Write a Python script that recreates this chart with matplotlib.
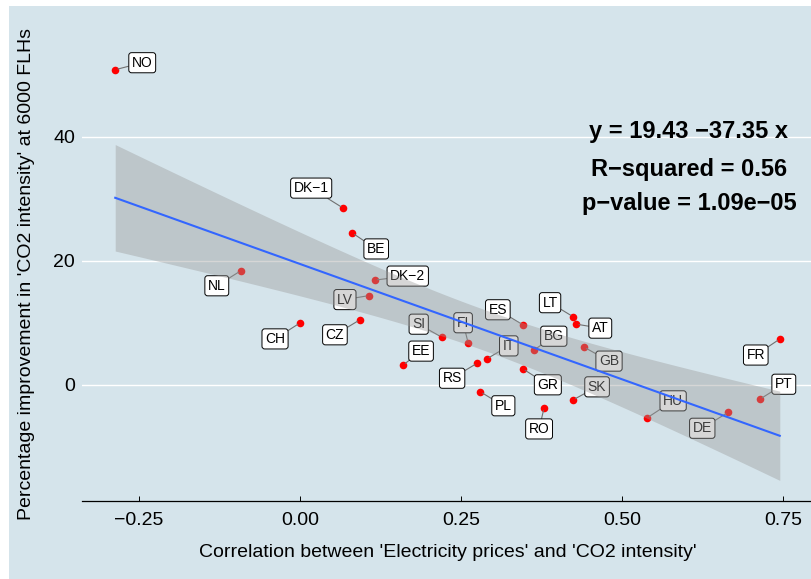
import matplotlib.pyplot as plt
import numpy as np

plt.rcParams['font.family'] = ['Liberation Sans', 'DejaVu Sans']

# data
countries = ['NO', 'DK-1', 'BE', 'DK-2', 'NL', 'LV', 'CH', 'CZ', 'SI', 'FI', 'EE', 'RS', 'IT',
             'ES', 'LT', 'AT', 'BG', 'GB', 'GR', 'PL', 'RO', 'SK', 'HU', 'DE', 'FR', 'PT']
corr = [-0.287, 0.067, 0.081, 0.116, -0.092, 0.107, 0.000, 0.093, 0.220, 0.261, 0.160, 0.275, 0.290,
        0.346, 0.424, 0.429, 0.363, 0.441, 0.346, 0.280, 0.379, 0.424, 0.539, 0.665, 0.745, 0.714]
improvement = [50.8, 28.5, 24.5, 16.9, 18.4, 14.4, 10.0, 10.5, 7.7, 6.8, 3.2, 3.5, 4.2,
               9.7, 11.0, 9.8, 5.6, 6.1, 2.6, -1.1, -3.7, -2.4, -5.3, -4.4, 7.4, -2.3]
# label offsets (pixels, image y downwards) as placed by the repel layout
label_dx = [27, -32, 24, 33, -24, -24, -25, -25, -23, -5, 18, -25, 22,
            -25, -23, 24, 20, 25, 25, 23, -5, 24, 26, -26, -24, 24]
label_dy = [-7, -20, 16, -4, 15, 4, 16, 15, -13, -20, -14, 15, -13,
            -15, -14, 4, -14, 14, 16, 14, 21, -13, -17, 16, 16, -15]
stats_lines = ['y = 19.43 \u221237.35 x', 'R\u2212squared = 0.56', 'p\u2212value = 1.09e\u221205']

bg = '#d5e4eb'
x = np.array(corr)
y = np.array(improvement)

fig = plt.figure(figsize=(8.11, 5.79), dpi=100, facecolor='white')
# plot background (thin white strip left and top, as in the reference)
fig.patches.append(plt.Rectangle((9 / 811, 0), 1, 573 / 579, transform=fig.transFigure,
                                 fc=bg, ec='none', zorder=-10))
ax = fig.add_axes([82 / 811, 78 / 579, 731 / 811, 453 / 579])
ax.set_facecolor(bg)

ax.scatter(x, y, s=30, color='#ff0000', zorder=2, linewidths=0)

for i, name in enumerate(countries):
    ax.annotate(name.replace('-', '\u2212'), xy=(x[i], y[i]), xytext=(label_dx[i], -label_dy[i]),
                textcoords='offset pixels', ha='center', va='center', fontsize=10, zorder=3,
                bbox=dict(boxstyle='round,pad=0.22,rounding_size=0.2', fc='white', ec='black', lw=0.7),
                arrowprops=dict(arrowstyle='-', color='#707070', lw=0.8, shrinkA=0, shrinkB=2))

# linear fit with 95% confidence band
n = len(x)
slope, intercept = np.polyfit(x, y, 1)
resid = y - (intercept + slope * x)
s = np.sqrt(np.sum(resid ** 2) / (n - 2))
t_crit = 2.064  # t(0.975, df=24)
xg = np.linspace(x.min(), x.max(), 80)
yg = intercept + slope * xg
se = s * np.sqrt(1 / n + (xg - x.mean()) ** 2 / np.sum((x - x.mean()) ** 2))
ax.fill_between(xg, yg - t_crit * se, yg + t_crit * se, color='#999999', alpha=0.4, lw=0, zorder=4)
ax.plot(xg, yg, color='#3366ff', lw=1.5, zorder=5)

for line, yb in zip(stats_lines, [39.8, 33.7, 28.2]):
    ax.text(0.604, yb, line, ha='center', va='baseline', fontsize=17, fontweight='bold', zorder=6)

ax.set_xlim(-0.3386, 0.7966)
ax.set_ylim(-18.7, 54.3)
ax.set_xticks([-0.25, 0.0, 0.25, 0.5, 0.75])
ax.set_xticklabels(['\u22120.25', '0.00', '0.25', '0.50', '0.75'])
ax.set_yticks([0, 20, 40])
ax.grid(axis='y', color='white', lw=1.0, zorder=0)
ax.set_axisbelow(True)
for side in ['top', 'right', 'left']:
    ax.spines[side].set_visible(False)
ax.spines['bottom'].set_linewidth(0.9)
ax.tick_params(axis='x', direction='in', length=3.5, width=0.7, labelsize=14, pad=8)
ax.tick_params(axis='y', length=0, labelsize=14, pad=5)

ax.set_xlabel("Correlation between 'Electricity prices' and 'CO2 intensity'", fontsize=14, labelpad=11)
ax.set_ylabel("Percentage improvement in 'CO2 intensity' at 6000 FLHs", fontsize=14, labelpad=13)

fig.savefig('out.png', dpi=100, facecolor='white')
